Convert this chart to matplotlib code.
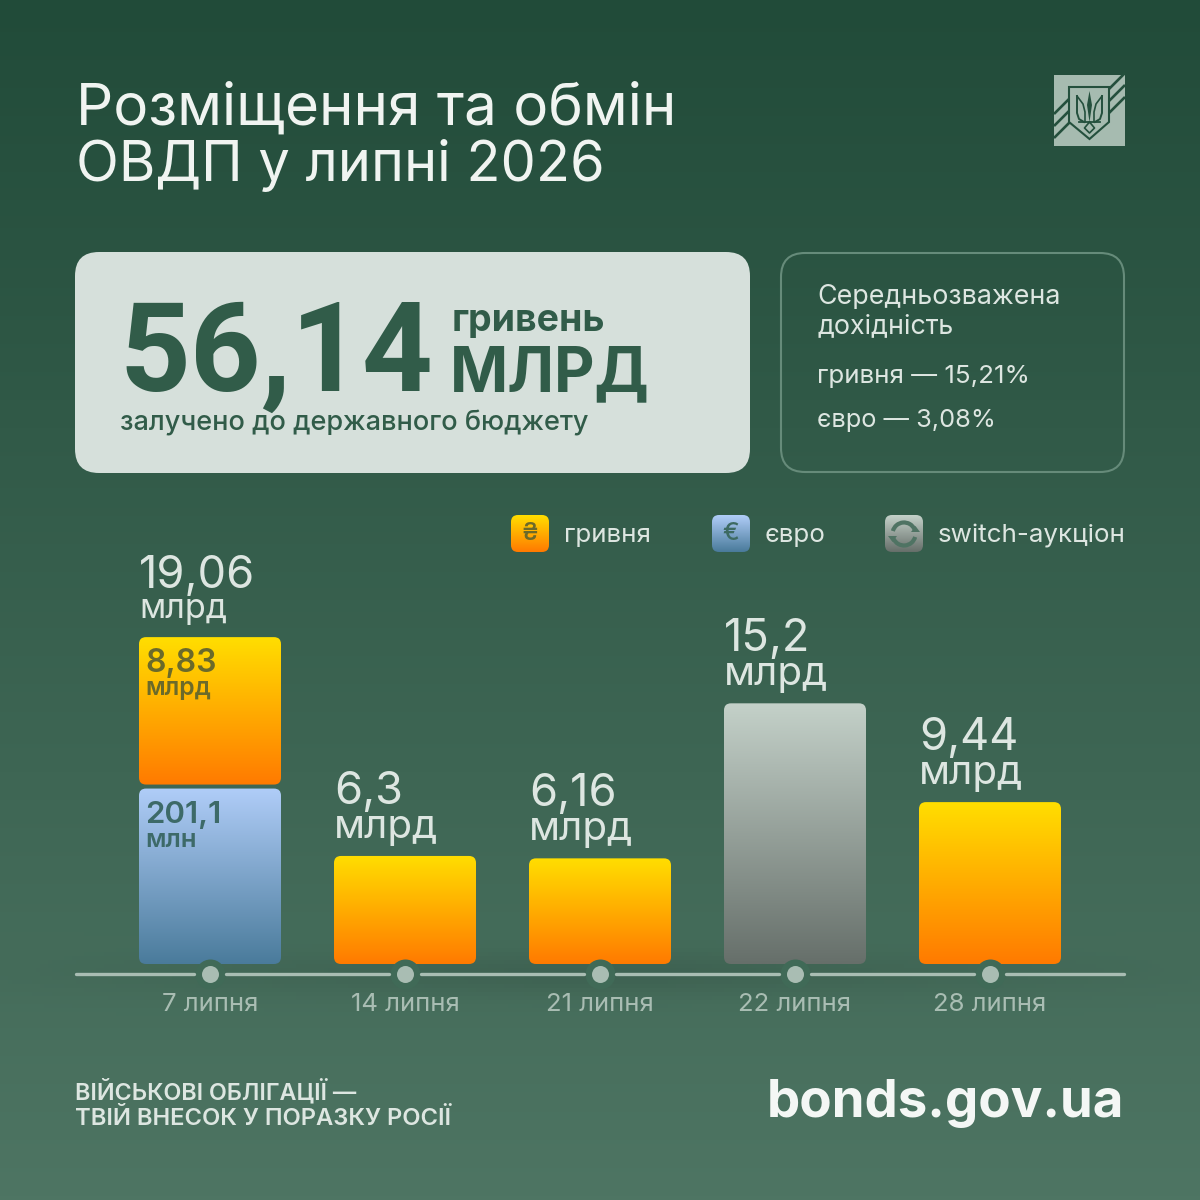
import numpy as np
import matplotlib
matplotlib.use("Agg")
import matplotlib.pyplot as plt
from matplotlib.colors import LinearSegmentedColormap
from matplotlib.patches import FancyBboxPatch, Polygon, Arc

plt.rcParams['font.family'] = ['Inter', 'Noto Sans', 'DejaVu Sans']

# data
dates = ["7 липня", "14 липня", "21 липня", "22 липня", "28 липня"]
uah_values = [8.83, 6.3, 6.16, 0, 9.44]
eur_uah_equiv = [10.23, 0, 0, 0, 0]
switch_values = [0, 0, 0, 15.2, 0]
total_labels = ["19,06", "6,3", "6,16", "15,2", "9,44"]
total_values = [19.06, 6.3, 6.16, 15.2, 9.44]

ORANGE = ["#FFDE00", "#FF7A00"]
BLUE = ["#B0CDF8", "#4A7B9B"]
GREY = ["#C4D1C9", "#666F6A"]
LIGHT = "#DDE6E1"
PALE = "#A9BDB3"
DARK = "#315C49"
EMBLEM = "#24503D"

PX = 0.72  # points per pixel at dpi 100

fig = plt.figure(figsize=(12, 12), dpi=100)

# page in pixel coordinates
page = fig.add_axes([0, 0, 1, 1])
page.axis("off")

yy, xx = np.mgrid[0:1200:300j, 0:1200:300j]
top = np.array([33, 75, 57]) / 255
bottom = np.array([78, 117, 99]) / 255
t = (yy / 1200)[..., None]
bg = top + (bottom - top) * t
# soft shadow under the bars
shadow = np.exp(-((yy - 975) / 22) ** 2) * np.clip(1.1 - np.abs(xx - 600) / 620, 0, 1)
bg = bg * (1 - 0.10 * shadow[..., None])
page.imshow(bg, extent=[0, 1200, 1200, 0], aspect="auto", zorder=0)
page.set_xlim(0, 1200)
page.set_ylim(1200, 0)

# title
page.text(75.5, 125, "Розміщення та обмін", fontsize=42, color="#F0F4F1", va="baseline")
page.text(75.5, 181, "ОВДП у липні 2026", fontsize=40.3, color="#F0F4F1", va="baseline")

# emblem
page.add_patch(Polygon([(1054, 75), (1125, 75), (1125, 146), (1054, 146)], fc="#A6BBB0", ec="none", zorder=2))
for d in [0, 12, 24]:
    page.plot([1108, 1125], [90 + d, 73 + d], color=EMBLEM, lw=1.9, solid_capstyle="butt", zorder=3)
    page.plot([1054, 1070], [114 + d, 98 + d], color=EMBLEM, lw=1.9, solid_capstyle="butt", zorder=3)
page.add_patch(Polygon([(1069, 87), (1109, 87), (1109, 122), (1089.5, 139), (1069, 122)],
                       fc="#A6BBB0", ec=EMBLEM, lw=1.5, zorder=4))
# trident
page.add_patch(Polygon([(1089.5, 91), (1092, 105), (1089.5, 122), (1087, 105)], fc=EMBLEM, ec="none", zorder=5))
page.plot([1077, 1077, 1079, 1084], [96, 113, 119, 122], color=EMBLEM, lw=1.4, zorder=5)
page.plot([1102, 1102, 1100, 1095], [96, 113, 119, 122], color=EMBLEM, lw=1.4, zorder=5)
page.plot([1077, 1083, 1085, 1085], [96, 104, 112, 122], color=EMBLEM, lw=1.2, zorder=5)
page.plot([1102, 1096, 1094, 1094], [96, 104, 112, 122], color=EMBLEM, lw=1.2, zorder=5)
page.plot([1079, 1100], [122, 122], color=EMBLEM, lw=1.3, zorder=5)
page.plot([1089.5, 1084.5, 1089.5, 1094.5, 1089.5], [122, 128, 133, 128, 122], color=EMBLEM, lw=1.2, zorder=5)

# main panel
page.add_patch(FancyBboxPatch((75, 252), 675, 221, boxstyle="round,pad=0,rounding_size=24",
                              fc="#D6E0DB", ec="none", zorder=2))
page.text(119, 391, "56,14", fontsize=89, family="Roboto", fontweight="bold", color=DARK, zorder=3)
page.text(452, 331, "гривень", fontsize=27, fontweight="bold", color=DARK, zorder=3)
page.text(450, 391, "млрд".upper(), fontsize=45, fontweight="bold", color=DARK, zorder=3)
page.text(120, 430, "залучено до державного бюджету", fontsize=19.5, fontweight="medium", color=DARK, zorder=3)

# yield panel
page.add_patch(FancyBboxPatch((781, 253), 343, 219, boxstyle="round,pad=0,rounding_size=24",
                              fc="none", ec="#668B7A", lw=1.5, zorder=2))
page.text(817, 304, "Середньозважена", fontsize=19.3, color=LIGHT, zorder=3)
page.text(817, 333, "дохідність", fontsize=19.3, color=LIGHT, zorder=3)
page.text(817, 383, "гривня — 15,21%", fontsize=18.7, color=LIGHT, zorder=3)
page.text(817, 427, "євро — 3,08%", fontsize=18.3, color=LIGHT, zorder=3)

# legend
for x0, colors, sym, label, tx in [(511, ORANGE, "₴", "гривня", 564),
                                   (712, BLUE, "€", "євро", 765),
                                   (885, GREY, "", "switch-аукціон", 938)]:
    box = FancyBboxPatch((x0, 515), 38, 37, boxstyle="round,pad=0,rounding_size=7", fc="none", ec="none", zorder=2)
    page.add_patch(box)
    cmap = LinearSegmentedColormap.from_list("g", colors)
    im = page.imshow(np.linspace(0, 1, 64).reshape(-1, 1), cmap=cmap, extent=[x0, x0 + 38, 552, 515],
                     aspect="auto", zorder=2)
    im.set_clip_path(box)
    if sym:
        page.text(x0 + 19, 534, sym, fontsize=18, fontweight="medium",
                  color="#3D6A62" if sym == "€" else "#6B6A2A", ha="center", va="center", zorder=3)
    else:
        cx = x0 + 19
        page.add_patch(Arc((cx, 534), 23, 23, theta1=195, theta2=335, ec="#4F7363", lw=3, zorder=3))
        page.add_patch(Arc((cx, 534), 23, 23, theta1=15, theta2=155, ec="#4F7363", lw=3, zorder=3))
        page.add_patch(Polygon([(cx + 7, 532), (cx + 16, 532), (cx + 11.5, 526)], fc="#4F7363", ec="none", zorder=3))
        page.add_patch(Polygon([(cx - 7, 536), (cx - 16, 536), (cx - 11.5, 542)], fc="#4F7363", ec="none", zorder=3))
    page.text(tx, 542, label, fontsize=18.7, color=LIGHT, zorder=3)
page.set_xlim(0, 1200)
page.set_ylim(1200, 0)

# footer
page.text(75, 1099, "ВІЙСЬКОВІ ОБЛІГАЦІЇ —", fontsize=16.8, fontweight="semibold", color=LIGHT)
page.text(75, 1125, "ТВІЙ ВНЕСОК У ПОРАЗКУ РОСІЇ", fontsize=17.1, fontweight="semibold", color=LIGHT)
page.text(1124.5, 1117, "bonds.gov.ua", fontsize=38, fontweight="bold", color="#F4F7F5", ha="right")

# bars: axes spans 75..1125 px across, timeline at 974 px
ax = fig.add_axes([75 / 1200, (1200 - 974) / 1200, 1050 / 1200, 434 / 1200])
ax.patch.set_alpha(0)
x_pos = np.arange(len(dates))
PX_X = 195.0
PX_Y = 17.15
XLIM = (-135 / PX_X, 4 + 135 / PX_X)
YLIM = (-10 / PX_Y, 424 / PX_Y)
for s in ax.spines.values():
    s.set_visible(False)
ax.set_yticks([])
ax.set_xticks(x_pos, dates)
ax.tick_params(axis="x", length=0, pad=14, labelsize=18.5, labelcolor=PALE)

BAR_W = 142 / PX_X
RADIUS = 7 / PX_X
ASPECT = PX_X / PX_Y


def grad_bar(x, bottom_val, height, colors):
    rect = ax.bar(x, height, BAR_W, bottom=bottom_val, color="none")[0]
    rx, ry, rw, rh = rect.get_x(), rect.get_y(), rect.get_width(), rect.get_height()
    box = FancyBboxPatch((rx + RADIUS, ry + RADIUS * ASPECT), rw - 2 * RADIUS, rh - 2 * RADIUS * ASPECT,
                         boxstyle=f"round,pad={RADIUS},rounding_size={RADIUS}",
                         mutation_aspect=ASPECT, fc="none", ec="none", zorder=2)
    ax.add_patch(box)
    cmap = LinearSegmentedColormap.from_list("g", colors)
    im = ax.imshow(np.linspace(0, 1, 256).reshape(-1, 1), cmap=cmap, extent=[rx, rx + rw, ry, ry + rh],
                   aspect="auto", origin="upper", zorder=2)
    im.set_clip_path(box)


gap = 4 / PX_Y
for i in x_pos:
    if eur_uah_equiv[i]:
        grad_bar(i, 0, eur_uah_equiv[i], BLUE)
    if uah_values[i]:
        base = eur_uah_equiv[i]
        grad_bar(i, base + (gap if base else 0), uah_values[i] - (gap if base else 0), ORANGE)
    if switch_values[i]:
        grad_bar(i, 0, switch_values[i], GREY)
ax.set_xlim(*XLIM)
ax.set_ylim(*YLIM)

# timeline with gaps around the dots
line_y = YLIM[0]
ax.scatter(x_pos, [line_y] * 5, s=(30 * PX) ** 2, color="#406A57", clip_on=False, zorder=3, linewidths=0)
edges = [XLIM[0] + 1 / PX_X] + [e for i in x_pos for e in (i - 16 / PX_X, i + 16 / PX_X)] + [XLIM[1] - 1 / PX_X]
for a, b in zip(edges[::2], edges[1::2]):
    ax.plot([a, b], [line_y] * 2, color=PALE, lw=2.4, solid_capstyle="round", clip_on=False, zorder=4)
ax.scatter(x_pos, [line_y] * 5, s=(17 * PX) ** 2, color=PALE, clip_on=False, zorder=5, linewidths=0)

# value labels
for i in x_pos:
    big = 32.5 if i else 32.5
    small = 29 if i else 24.5
    up_num = 52 if i else 49
    up_unit = 18 if i else 19
    xl = i - BAR_W / 2
    ax.annotate(total_labels[i], (xl, total_values[i]), xytext=(0, up_num * PX), textcoords="offset points",
                fontsize=big, color=LIGHT, ha="left", va="baseline")
    ax.annotate("млрд", (xl, total_values[i]), xytext=(0, up_unit * PX), textcoords="offset points",
                fontsize=small, color=LIGHT, ha="left", va="baseline")

# labels inside the first bar
ax.annotate("8,83", (0 - BAR_W / 2, total_values[0]), xytext=(6 * PX, -35 * PX), textcoords="offset points",
            fontsize=23, fontweight="semibold", color="#6B6A2A", va="baseline")
ax.annotate("млрд", (0 - BAR_W / 2, total_values[0]), xytext=(6 * PX, -58 * PX), textcoords="offset points",
            fontsize=17.8, fontweight="semibold", color="#6B6A2A", va="baseline")
ax.annotate("201,1", (0 - BAR_W / 2, eur_uah_equiv[0]), xytext=(6 * PX, -34 * PX), textcoords="offset points",
            fontsize=22.5, fontweight="semibold", color="#3D6A68", va="baseline")
ax.annotate("млн", (0 - BAR_W / 2, eur_uah_equiv[0]), xytext=(6 * PX, -58 * PX), textcoords="offset points",
            fontsize=18.5, fontweight="semibold", color="#3D6A68", va="baseline")

fig.savefig("out.png", dpi=100)
